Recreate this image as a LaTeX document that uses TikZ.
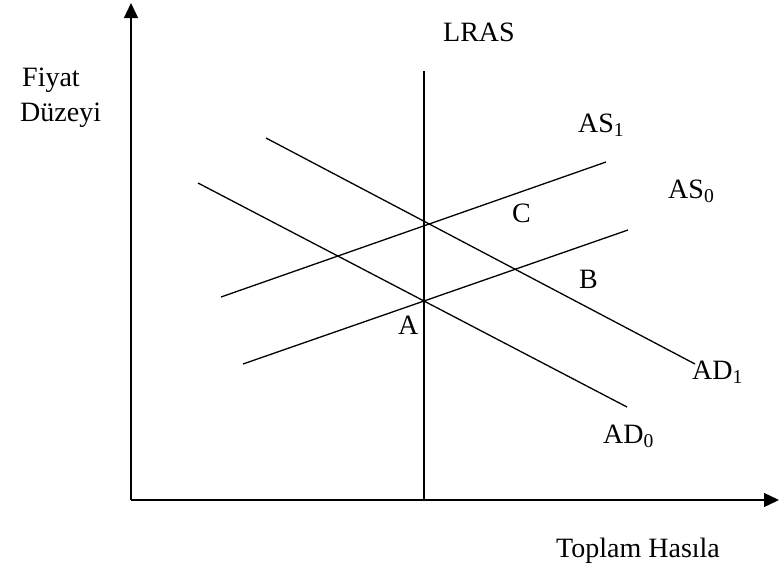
\documentclass[tikz,border=0pt]{standalone}
\usepackage{fontspec}
\setmainfont{Liberation Serif}
\usetikzlibrary{arrows.meta}
\begin{document}
\begin{tikzpicture}[x=1pt,y=-1pt,
  curve/.style={line width=1.3pt,line cap=butt},
  axis/.style={line width=1.3pt,-{Triangle[length=15pt,width=14pt]}},
  lbl/.style={inner sep=0pt,anchor=base west,font=\fontsize{28}{32}\selectfont}]
\useasboundingbox (0,0) rectangle (779,571);
% axes
\coordinate (O) at (131,500);
\coordinate (Ytop) at (131,3);
\coordinate (Xend) at (779,500);
\draw[axis] (O) -- (Ytop);
\draw[axis] (O) -- (Xend);
% LRAS
\coordinate (L1) at (424,71);
\coordinate (L2) at (424,500);
\draw[curve] (L1) -- (L2);
% AD0
\coordinate (ad0s) at (198,183);
\coordinate (ad0e) at (627,407);
\draw[curve] (ad0s) -- (ad0e);
% AD1
\coordinate (ad1s) at (266,138);
\coordinate (ad1e) at (695,364);
\draw[curve] (ad1s) -- (ad1e);
% AS0
\coordinate (as0s) at (243,364);
\coordinate (as0e) at (628,230);
\draw[curve] (as0s) -- (as0e);
% AS1
\coordinate (as1s) at (221,297);
\coordinate (as1e) at (606,162);
\draw[curve] (as1s) -- (as1e);
% labels
\node[lbl] (lras) at (443,41) {LRAS};
\node[lbl] (fiyat) at (22,86) {Fiyat};
\node[lbl] (duzeyi) at (20,121) {Düzeyi};
\node[lbl] (as1) at (578,132) {AS\textsubscript{1}};
\node[lbl] (as0) at (668,198) {AS\textsubscript{0}};
\node[lbl] (c) at (512,222) {C};
\node[lbl] (b) at (579,288) {B};
\node[lbl] (a) at (398,334) {A};
\node[lbl] (ad1) at (692,379) {AD\textsubscript{1}};
\node[lbl] (ad0) at (603,443) {AD\textsubscript{0}};
\node[lbl] (toplam) at (556,557) {Toplam Hasıla};
\end{tikzpicture}
\end{document}
